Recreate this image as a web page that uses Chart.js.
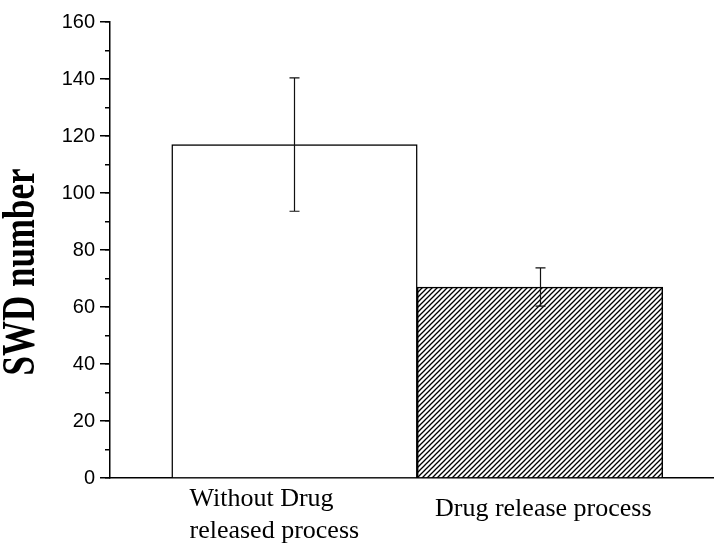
<!DOCTYPE html>
<html>
<head>
<meta charset="utf-8">
<script src="https://cdn.jsdelivr.net/npm/chart.js@4.4.1/dist/chart.umd.min.js"></script>
<style>
  html, body { margin: 0; padding: 0; background: #fff; }
  #wrap { width: 714px; height: 544px; }
</style>
</head>
<body>
<div id="wrap"><canvas id="c" width="714" height="544"></canvas></div>
<script>
// ---- data ----
const categories = [['Without Drug', 'released process'], 'Drug release process'];
const positions = [1, 2];
const means = [117, 67];
const errors = [23.4, 6.7];
const yMin = 0, yMax = 160, yMajorStep = 20, yMinorStep = 10;
const yTitle = 'SWD number';

// hatch pattern for second bar
function makeHatch() {
  const p = 5;
  const c = document.createElement('canvas');
  c.width = p; c.height = p;
  const g = c.getContext('2d');
  g.fillStyle = '#fff';
  g.fillRect(0, 0, p, p);
  g.strokeStyle = '#000';
  g.lineWidth = 1.3;
  g.beginPath();
  g.moveTo(-1, p + 1); g.lineTo(p + 1, -1);
  g.moveTo(-1, 1); g.lineTo(1, -1);
  g.moveTo(p - 1, p + 1); g.lineTo(p + 1, p - 1);
  g.stroke();
  return c;
}
const ctx = document.getElementById('c').getContext('2d');
const hatch = ctx.createPattern(makeHatch(), 'repeat');

const errorBars = {
  id: 'errorBars',
  afterDatasetsDraw(chart) {
    const x = chart.scales.x, y = chart.scales.y;
    const g = chart.ctx;
    g.save();
    g.strokeStyle = '#111';
    g.lineWidth = 1.2;
    positions.forEach((pos, i) => {
      const px = Math.round(x.getPixelForValue(pos)) + 0.5;
      const top = y.getPixelForValue(means[i] + errors[i]);
      const bot = y.getPixelForValue(means[i] - errors[i]);
      g.beginPath();
      g.moveTo(px, top); g.lineTo(px, bot);
      g.moveTo(px - 5, top); g.lineTo(px + 5, top);
      g.moveTo(px - 5, bot); g.lineTo(px + 5, bot);
      g.stroke();
    });
    g.restore();
  }
};

// y-axis title, drawn rotated and slightly stretched across the reading direction
const yAxisTitle = {
  id: 'yAxisTitle',
  afterDraw(chart) {
    const area = chart.chartArea;
    const g = chart.ctx;
    g.save();
    g.translate(22, (area.top + area.bottom) / 2 + 22);
    g.rotate(-Math.PI / 2);
    g.scale(1, 1.35);
    g.fillStyle = '#000';
    g.font = 'bold 35px "Liberation Serif", "Times New Roman", serif';
    g.textAlign = 'center';
    g.textBaseline = 'middle';
    g.fillText(yTitle, 0, 0);
    g.restore();
  }
};

new Chart(ctx, {
  type: 'bar',
  data: {
    datasets: [{
      data: positions.map((p, i) => ({ x: p, y: means[i] })),
      backgroundColor: ['#ffffff', hatch],
      borderColor: '#000',
      borderWidth: 1.5,
      barPercentage: 1,
      categoryPercentage: 1
    }]
  },
  options: {
    responsive: false,
    animation: false,
    devicePixelRatio: 1,
    layout: { padding: { top: 22, right: 0, bottom: 0, left: 0 } },
    plugins: { legend: { display: false }, tooltip: { enabled: false } },
    scales: {
      x: {
        type: 'linear',
        offset: false,
        min: 0.2485,
        max: 2.7088,
        afterBuildTicks: s => { s.ticks = positions.map(v => ({ value: v })); },
        afterFit: s => { s.height = 66; s.paddingLeft = 0; s.paddingRight = 0; },
        grid: { display: true, drawOnChartArea: false, drawTicks: false },
        border: { color: '#000', width: 1.5 },
        ticks: {
          padding: 6,
          color: '#000',
          maxRotation: 0,
          autoSkip: false,
          align: 'start',
          labelOffset: -105,
          font: ctx => ({
            family: '"Liberation Serif", "Times New Roman", serif',
            size: 26,
            lineHeight: ctx.index === 1 ? 1.96 : 1.2
          }),
          callback: (v) => {
            const i = positions.indexOf(v);
            return i >= 0 ? categories[i] : '';
          }
        }
      },
      y: {
        position: 'left',
        weight: 1,
        min: yMin,
        max: yMax,
        afterFit: s => { s.width = 110; },
        grid: { drawOnChartArea: false, tickLength: 10, color: '#000', lineWidth: 1.5 },
        border: { color: '#000', width: 1.5 },
        ticks: {
          stepSize: yMajorStep,
          padding: 5,
          color: '#000',
          font: { family: '"Liberation Sans", Arial, sans-serif', size: 20 }
        },
        title: { display: false, text: yTitle }
      },
      y2: {
        position: 'left',
        weight: 0,
        min: yMin,
        max: yMax,
        afterFit: s => { s.width = 0; },
        grid: { drawOnChartArea: false, tickLength: 5, color: '#000', lineWidth: 1.5 },
        border: { display: false },
        ticks: { stepSize: yMinorStep, display: false }
      }
    }
  },
  plugins: [errorBars, yAxisTitle]
});
</script>
</body>
</html>
